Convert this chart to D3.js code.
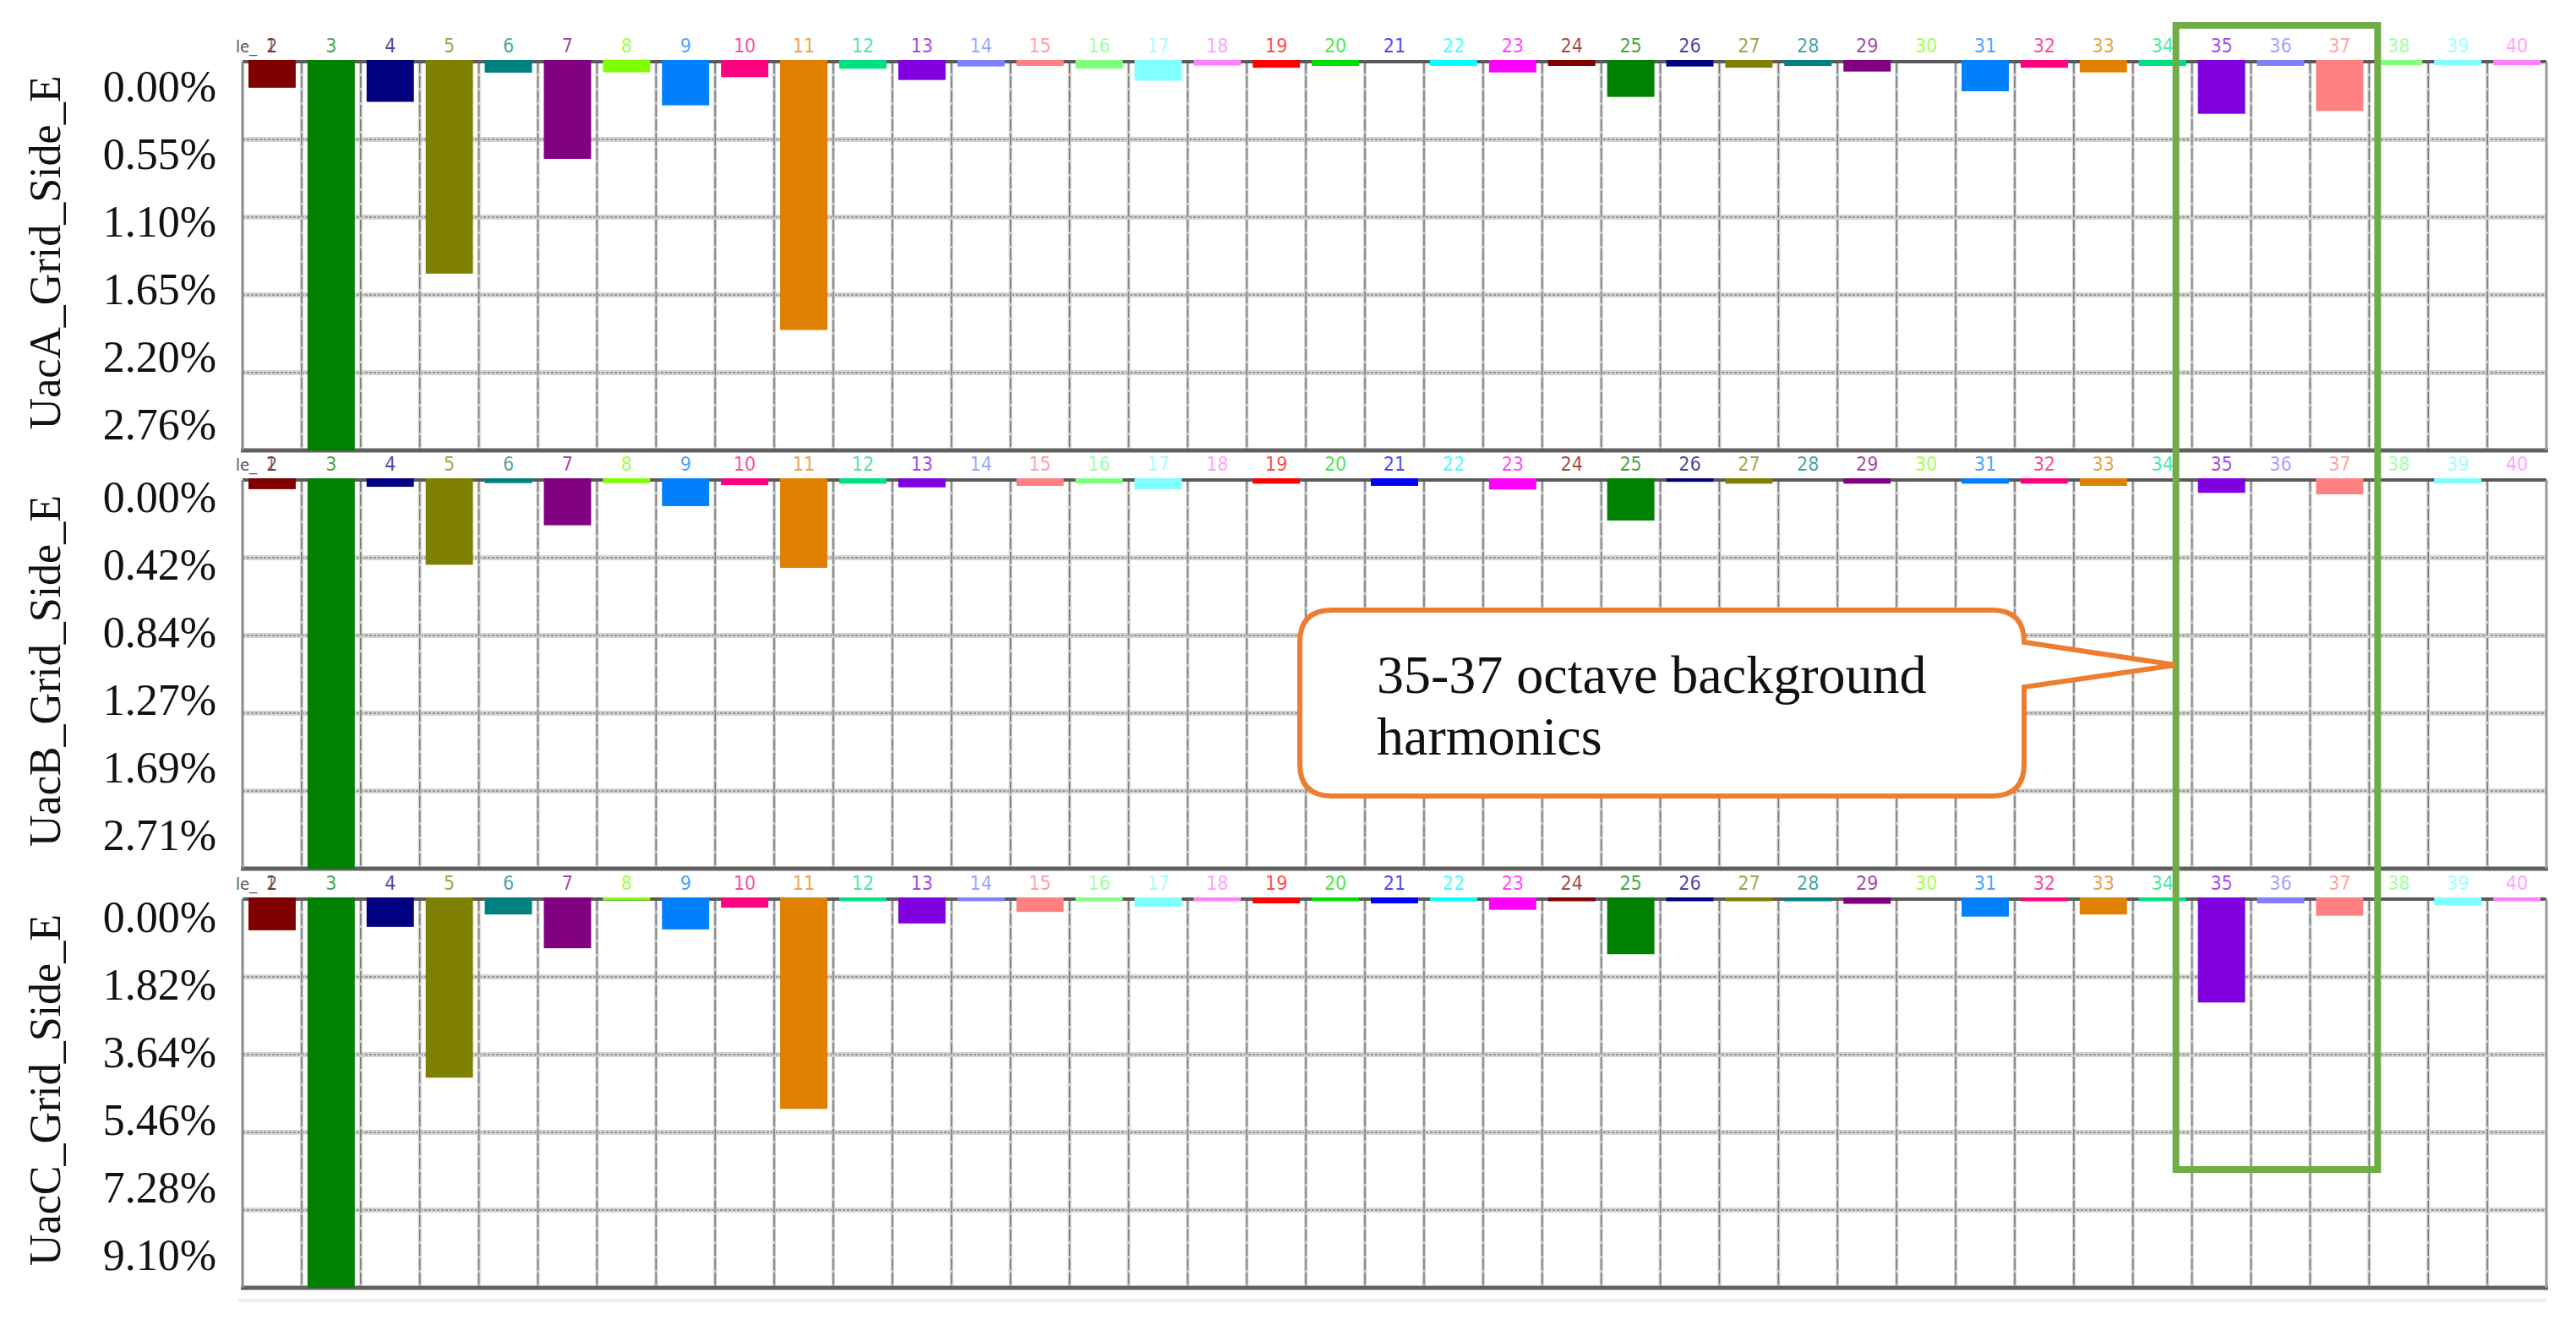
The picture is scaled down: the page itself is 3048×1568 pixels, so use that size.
<!DOCTYPE html>
<html>
<head>
<meta charset="utf-8">
<script src="https://d3js.org/d3.v7.min.js"></script>
<style>
  body { margin: 0; background: #fff; }
  svg { display: block; }
</style>
</head>
<body>
<script>
// harmonic order on the x axis
var harmonics = [2, 3, 4, 5, 6, 7, 8, 9, 10, 11, 12, 13, 14, 15, 16, 17, 18, 19, 20, 21,
                 22, 23, 24, 25, 26, 27, 28, 29, 30, 31, 32, 33, 34, 35, 36, 37, 38, 39, 40];

// harmonic content in % (3rd harmonic is off the scale in every panel)
var uacA = [0.185, 3.0, 0.285, 1.505, 0.078, 0.69, 0.075, 0.31, 0.11, 1.905,
            0.05, 0.13, 0.034, 0.03, 0.05, 0.135, 0.027, 0.043, 0.03, 0,
            0.03, 0.076, 0.03, 0.25, 0.034, 0.043, 0.03, 0.07, 0, 0.21,
            0.043, 0.076, 0.03, 0.37, 0.03, 0.35, 0.025, 0.025, 0.025];
var uacB = [0.05, 2.5, 0.037, 0.46, 0.017, 0.246, 0.017, 0.142, 0.028, 0.477,
            0.02, 0.04, 0, 0.032, 0.02, 0.05, 0, 0.02, 0, 0.032,
            0, 0.052, 0, 0.22, 0.01, 0.02, 0, 0.02, 0, 0.02,
            0.02, 0.032, 0, 0.07, 0, 0.078, 0, 0.02, 0];
var uacC = [0.73, 10.0, 0.65, 4.18, 0.36, 1.15, 0.03, 0.71, 0.2, 4.91,
            0.05, 0.57, 0.05, 0.30, 0.05, 0.18, 0.05, 0.1, 0.05, 0.1,
            0.05, 0.25, 0.05, 1.29, 0.05, 0.05, 0.05, 0.11, 0, 0.41,
            0.05, 0.36, 0.05, 2.42, 0.1, 0.39, 0, 0.15, 0.05];

var panelTitles = ["UacA_Grid_Side_E", "UacB_Grid_Side_E", "UacC_Grid_Side_E"];
var ticksA = ["0.00%", "0.55%", "1.10%", "1.65%", "2.20%", "2.76%"];
var ticksB = ["0.00%", "0.42%", "0.84%", "1.27%", "1.69%", "2.71%"];
var ticksC = ["0.00%", "1.82%", "3.64%", "5.46%", "7.28%", "9.10%"];
var yMax = [2.76, 2.11, 9.10];

var calloutLines = ["35-37 octave background", "harmonics"];
var boxedHarmonics = [35, 37];

// palette used by the analyser, repeats every 22 harmonics
var palette = ["#800000", "#008000", "#000080", "#808000", "#008080", "#800080",
               "#80ff00", "#0080ff", "#ff0080", "#e08000", "#00e080", "#8000e0",
               "#8080ff", "#ff8080", "#80ff80", "#80ffff", "#ff80ff", "#ff0000",
               "#00e000", "#0000ff", "#00ffff", "#ff00ff"];
function colorOf(i) { return palette[i % palette.length]; }

var W = 3048, H = 1568;
var left = 287, right = 3013, panelH = 460;
var panels = [
  {top: 73,   tickOff: 29, values: uacA, ticks: ticksA},
  {top: 568,  tickOff: 20, values: uacB, ticks: ticksB},
  {top: 1064, tickOff: 21, values: uacC, ticks: ticksC}
];

var svg = d3.select("body").append("svg")
            .attr("width", W).attr("height", H);
svg.append("rect").attr("width", W).attr("height", H).attr("fill", "#fff");

var xCol = d3.scaleBand().domain(harmonics).range([left, right]).padding(0);
var xBar = d3.scaleBand().domain(harmonics).range([left, right])
             .paddingInner(0.2).paddingOuter(0.1);

var serif = "'Liberation Serif', 'Times New Roman', serif";
var narrow = "'DejaVu Sans Condensed', 'Liberation Sans Narrow', sans-serif";

panels.forEach(function(p, pi) {
  var g = svg.append("g").attr("class", "panel");
  var y = d3.scaleLinear().domain([0, yMax[pi]])
            .range([p.top, p.top + panelH]).clamp(true);

  // horizontal grid
  var hg = [1, 2, 3, 4].map(function(i) { return yMax[pi] * i / 5; });
  g.selectAll("line.hgrid-b").data(hg).enter().append("line")
    .attr("x1", left).attr("x2", right)
    .attr("y1", function(d) { return y(d); }).attr("y2", function(d) { return y(d); })
    .attr("stroke", "#d4d4d4").attr("stroke-width", 6);
  g.selectAll("line.hgrid").data(hg).enter().append("line")
    .attr("x1", left).attr("x2", right)
    .attr("y1", function(d) { return y(d); }).attr("y2", function(d) { return y(d); })
    .attr("stroke", "#808080").attr("stroke-width", 1.5)
    .attr("stroke-dasharray", "3,2");

  // vertical grid at column edges
  var vg = harmonics.slice(1);
  g.selectAll("line.vgrid-b").data(vg).enter().append("line")
    .attr("x1", function(d) { return xCol(d); }).attr("x2", function(d) { return xCol(d); })
    .attr("y1", p.top).attr("y2", p.top + panelH)
    .attr("stroke", "#cfcfcf").attr("stroke-width", 4);
  g.selectAll("line.vgrid").data(vg).enter().append("line")
    .attr("x1", function(d) { return xCol(d); }).attr("x2", function(d) { return xCol(d); })
    .attr("y1", p.top).attr("y2", p.top + panelH)
    .attr("stroke", "#7a7a7a").attr("stroke-width", 1.5)
    .attr("stroke-dasharray", "14,3");

  // frame
  g.append("line").attr("x1", left).attr("x2", right)
    .attr("y1", p.top).attr("y2", p.top)
    .attr("stroke", "#5a5a5a").attr("stroke-width", 4);
  g.append("line").attr("x1", left - 2).attr("x2", right + 2)
    .attr("y1", p.top + panelH).attr("y2", p.top + panelH)
    .attr("stroke", "#606060").attr("stroke-width", 5);
  g.append("line").attr("x1", left).attr("x2", left)
    .attr("y1", p.top).attr("y2", p.top + panelH)
    .attr("stroke", "#8a8a8a").attr("stroke-width", 3);
  g.append("line").attr("x1", right).attr("x2", right)
    .attr("y1", p.top).attr("y2", p.top + panelH)
    .attr("stroke", "#9a9a9a").attr("stroke-width", 3);

  // bars hanging from the top axis
  g.selectAll("rect.bar").data(p.values).enter().append("rect")
    .attr("class", "bar")
    .attr("x", function(d, i) { return xBar(harmonics[i]); })
    .attr("y", p.top - 2)
    .attr("width", xBar.bandwidth())
    .attr("height", function(d) { return d > 0 ? y(d) - p.top + 2 : 0; })
    .attr("fill", function(d, i) { return colorOf(i); });

  // harmonic numbers above the panel
  g.selectAll("text.hlabel").data(harmonics).enter().append("text")
    .attr("class", "hlabel")
    .attr("x", function(d) { return xCol(d) + xCol.bandwidth() / 2; })
    .attr("y", p.top - 11)
    .attr("text-anchor", "middle")
    .style("font-family", narrow).style("font-size", "23px")
    .attr("fill", function(d, i) { return colorOf(i); })
    .attr("fill-opacity", 0.72)
    .text(function(d) { return d; });
  // clipped legend remnant over the first column
  g.append("text").attr("x", left - 8).attr("y", p.top - 11)
    .style("font-family", narrow).style("font-size", "20px")
    .attr("fill", "#555").text("le_");
  g.append("text").attr("x", xCol(2) + xCol.bandwidth() / 2 - 1).attr("y", p.top - 11)
    .attr("text-anchor", "middle")
    .style("font-family", narrow).style("font-size", "23px")
    .attr("fill", "#333").attr("fill-opacity", 0.6).text("1");

  // y tick labels
  var yl = d3.scalePoint().domain(p.ticks)
             .range([p.top + p.tickOff, p.top + p.tickOff + 400]);
  g.selectAll("text.ytick").data(p.ticks).enter().append("text")
    .attr("x", 256)
    .attr("y", function(d) { return yl(d); })
    .attr("dy", "0.35em")
    .attr("text-anchor", "end")
    .style("font-family", serif).style("font-size", "52px")
    .attr("fill", "#111")
    .text(function(d) { return d; });

  // panel title
  g.append("text")
    .attr("transform", "translate(71," + (p.top + 226) + ") rotate(-90)")
    .attr("text-anchor", "middle")
    .style("font-family", serif).style("font-size", "52px")
    .attr("fill", "#111")
    .text(panelTitles[pi]);
});

// faint line under the last panel
svg.append("line").attr("x1", 282).attr("x2", right)
  .attr("y1", 1539).attr("y2", 1539)
  .attr("stroke", "#efefef").attr("stroke-width", 5);

// green box around harmonics 35-37
var bx0 = xCol(boxedHarmonics[0]) - 19;
var bx1 = xCol(boxedHarmonics[1]) + xCol.bandwidth() + 10;
svg.append("rect")
  .attr("x", bx0).attr("y", 30)
  .attr("width", bx1 - bx0).attr("height", 1354)
  .attr("fill", "none").attr("stroke", "#70ad47").attr("stroke-width", 8);

// callout
var cx0 = 1538, cx1 = 2395, cy0 = 722, cy1 = 942, r = 38;
var tipX = bx0, tipY = 787;
var path = d3.path();
path.moveTo(cx0 + r, cy0);
path.lineTo(cx1 - r, cy0);
path.quadraticCurveTo(cx1, cy0, cx1, cy0 + r);
path.lineTo(cx1, 760);
path.lineTo(tipX, tipY);
path.lineTo(cx1, 813);
path.lineTo(cx1, cy1 - r);
path.quadraticCurveTo(cx1, cy1, cx1 - r, cy1);
path.lineTo(cx0 + r, cy1);
path.quadraticCurveTo(cx0, cy1, cx0, cy1 - r);
path.lineTo(cx0, cy0 + r);
path.quadraticCurveTo(cx0, cy0, cx0 + r, cy0);
path.closePath();
svg.append("path").attr("d", path.toString())
  .attr("fill", "#fff").attr("stroke", "#ed7d31").attr("stroke-width", 6)
  .attr("stroke-linejoin", "miter");

svg.selectAll("text.callout").data(calloutLines).enter().append("text")
  .attr("class", "callout")
  .attr("x", 1629)
  .attr("y", function(d, i) { return 820 + i * 73; })
  .style("font-family", serif).style("font-size", "64px")
  .attr("fill", "#111")
  .text(function(d) { return d; });
</script>
</body>
</html>
